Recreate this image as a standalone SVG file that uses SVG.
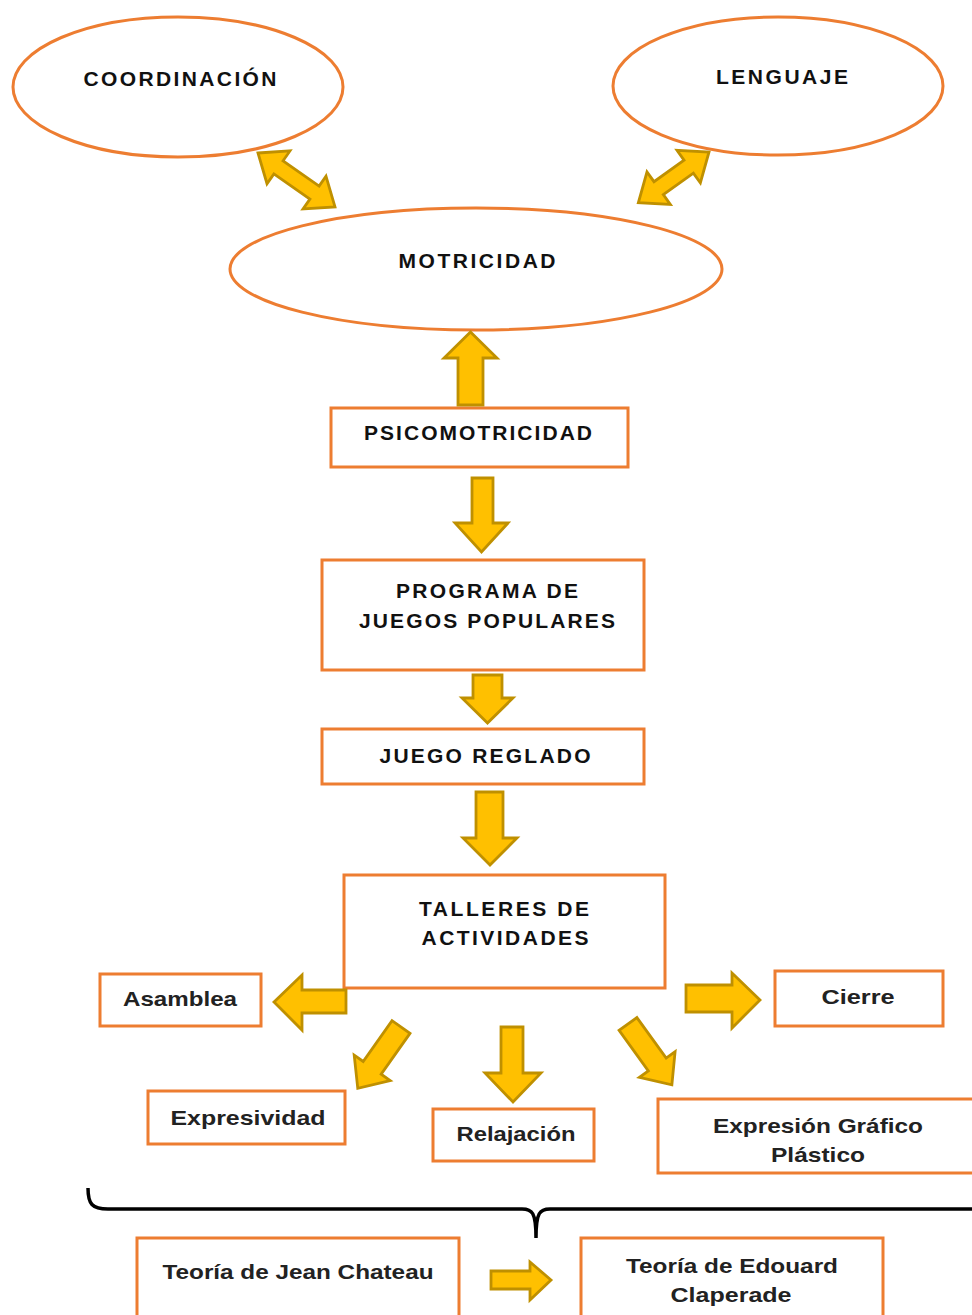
<svg xmlns="http://www.w3.org/2000/svg" width="972" height="1315" viewBox="0 0 972 1315">
<style>
.n{fill:#fff;stroke:#ED7D31;stroke-width:3}
.t{font-family:"Liberation Sans",Arial,sans-serif;font-weight:bold;font-size:21px;fill:#111;text-anchor:middle}
.l{font-family:"Liberation Sans",Arial,sans-serif;font-weight:bold;font-size:21px;fill:#222;text-anchor:middle}
.a{fill:#FFC000;stroke:#BF9000;stroke-width:2.8;stroke-linejoin:miter}
.b{fill:none;stroke:#000;stroke-width:3.5}
</style>
<rect width="972" height="1315" fill="#fff"/>
<g id="coordinacion"><ellipse class="n" cx="178" cy="87" rx="165" ry="70"/><text class="t" x="180" y="86" textLength="193" lengthAdjust="spacing">COORDINACIÓN</text></g>
<g id="lenguaje"><ellipse class="n" cx="778" cy="86" rx="165" ry="69"/><text class="t" x="782" y="84" textLength="132" lengthAdjust="spacing">LENGUAJE</text></g>
<g id="motricidad"><ellipse class="n" cx="476" cy="269" rx="246" ry="61"/><text class="t" x="477" y="268" textLength="157" lengthAdjust="spacing">MOTRICIDAD</text></g>
<g id="psicomotricidad"><rect class="n" x="331" y="408" width="297" height="59"/><text class="t" x="478" y="440" textLength="228" lengthAdjust="spacing">PSICOMOTRICIDAD</text></g>
<g id="programa"><rect class="n" x="322" y="560" width="322" height="110"/><text class="t" x="487" y="598" textLength="182" lengthAdjust="spacing">PROGRAMA DE</text><text class="t" x="487" y="628" textLength="256" lengthAdjust="spacing">JUEGOS POPULARES</text></g>
<g id="juego-reglado"><rect class="n" x="322" y="729" width="322" height="55"/><text class="t" x="485" y="763" textLength="211" lengthAdjust="spacing">JUEGO REGLADO</text></g>
<g id="talleres"><rect class="n" x="344" y="875" width="321" height="113"/><text class="t" x="504" y="916" textLength="170" lengthAdjust="spacing">TALLERES DE</text><text class="t" x="505" y="945" textLength="167" lengthAdjust="spacing">ACTIVIDADES</text></g>
<g id="asamblea"><rect class="n" x="100" y="974" width="161" height="52"/><text class="l" x="180" y="1006" textLength="114" lengthAdjust="spacingAndGlyphs">Asamblea</text></g>
<g id="cierre"><rect class="n" x="775" y="971" width="168" height="55"/><text class="l" x="858" y="1004" textLength="73" lengthAdjust="spacingAndGlyphs">Cierre</text></g>
<g id="expresividad"><rect class="n" x="148" y="1091" width="197" height="53"/><text class="l" x="248" y="1125" textLength="155" lengthAdjust="spacingAndGlyphs">Expresividad</text></g>
<g id="relajacion"><rect class="n" x="433" y="1109" width="161" height="52"/><text class="l" x="516" y="1141" textLength="119" lengthAdjust="spacingAndGlyphs">Relajación</text></g>
<g id="expresion"><rect class="n" x="658" y="1099" width="316" height="74"/><text class="l" x="818" y="1133" textLength="210" lengthAdjust="spacingAndGlyphs">Expresión Gráfico</text><text class="l" x="818" y="1162" textLength="94" lengthAdjust="spacingAndGlyphs">Plástico</text></g>
<g id="chateau"><rect class="n" x="137" y="1238" width="322" height="90"/><text class="l" x="298" y="1279" textLength="271" lengthAdjust="spacingAndGlyphs">Teoría de Jean Chateau</text></g>
<g id="claperade"><rect class="n" x="581" y="1238" width="302" height="90"/><text class="l" x="732" y="1273" textLength="212" lengthAdjust="spacingAndGlyphs">Teoría de Edouard</text><text class="l" x="731" y="1302" textLength="121" lengthAdjust="spacingAndGlyphs">Claperade</text></g>
<g id="connectors">
<path class="a" transform="translate(258,153) rotate(35)" d="M0,0 L25,-20 L25,-8 L69,-8 L69,-20 L94,0 L69,20 L69,8 L25,8 L25,20 Z"/>
<path class="a" transform="translate(709,152) rotate(144.3)" d="M0,0 L25,-20 L25,-8 L62,-8 L62,-20 L87,0 L62,20 L62,8 L25,8 L25,20 Z"/>
<path class="a" d="M470.5,332 L497,358 L483,358 L483,405 L458,405 L458,358 L444,358 Z"/>
<path class="a" d="M472,478 L493,478 L493,523 L508,523 L481.5,552 L455,523 L472,523 Z"/>
<path class="a" d="M473,675 L502,675 L502,698 L513,698 L487.5,723 L462,698 L473,698 Z"/>
<path class="a" d="M476,792 L503,792 L503,838 L517,838 L490,865 L463,838 L476,838 Z"/>
<path class="a" d="M346,990 L346,1013 L302,1013 L302,1030 L274,1002 L302,975 L302,990 Z"/>
<path class="a" d="M686,985 L732,985 L732,973 L760,1000 L732,1028 L732,1012 L686,1012 Z"/>
<path class="a" transform="translate(401,1027) rotate(125.2)" d="M0,-11 L50,-11 L50,-22 L75,0 L50,22 L50,11 L0,11 Z"/>
<path class="a" d="M501,1027 L523,1027 L523,1073 L541,1073 L513,1102 L485,1073 L501,1073 Z"/>
<path class="a" transform="translate(628,1024) rotate(54.2)" d="M0,-11 L50,-11 L50,-22 L75,0 L50,22 L50,11 L0,11 Z"/>
<path class="a" d="M491,1271 L530,1271 L530,1262 L551,1280 L530,1300 L530,1289 L491,1289 Z"/>
<path class="b" d="M88,1188 C88,1204 92,1209 108,1209 L522,1209 C532,1209 536,1212 536,1238 C536,1212 540,1209 550,1209 L972,1209"/>
</g>
</svg>
